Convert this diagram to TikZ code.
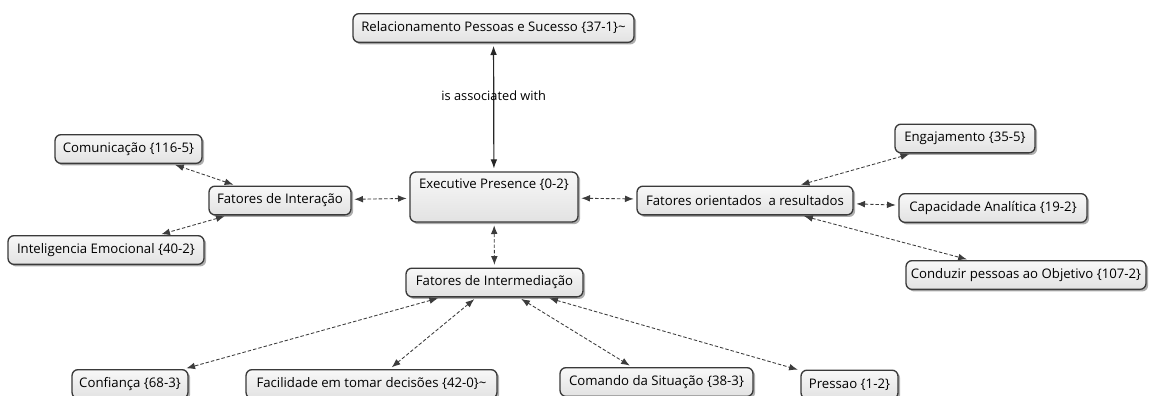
\documentclass[tikz,border=0pt]{standalone}
\usepackage{fontspec}
\setmainfont{Open Sans}
\usetikzlibrary{arrows.meta,shadows}
\definecolor{boxline}{HTML}{3A3A3A}
\definecolor{boxtop}{HTML}{F8F8F8}
\definecolor{boxbot}{HTML}{E2E2E2}
\definecolor{linkcol}{HTML}{3C3C3C}
\tikzset{
  concept/.style={rounded corners=4.5pt, draw=boxline, line width=1pt,
    top color=boxtop, bottom color=boxbot,
    drop shadow={shadow xshift=1.6pt, shadow yshift=-1.6pt, opacity=0.45, fill=black!70},
    font=\fontsize{9.9}{11}\selectfont,
    inner xsep=3pt, inner ysep=0pt, minimum height=21.5pt},
  bw/.style={minimum width={#1*0.75pt}},
  link/.style={draw=linkcol, line width=0.65pt, dash pattern=on 2.6pt off 1.5pt,
    {Latex[length=6.5pt,width=5pt]}-{Latex[length=6.5pt,width=5pt]},
    shorten >=2pt, shorten <=2pt},
  mainlink/.style={draw=black!85, line width=0.9pt,
    {Latex[length=7pt,width=5pt]}-{Latex[length=7pt,width=5pt]},
    shorten >=2pt, shorten <=2pt},
}
\begin{document}
\begin{tikzpicture}[x=0.75pt, y=-0.75pt]
\useasboundingbox (0,0) rectangle (1160,396);
\clip (0,0) rectangle (1160,396);
\fill[white] (0,0) rectangle (1160,396);

% concepts
\node[concept, bw=281] (rel)    at (493.5,28)  {Relacionamento Pessoas e Sucesso \{37-1\}\textasciitilde};
\node[concept, bw=168, text height=12.5pt, text depth=25pt] (exec) at (494,197) {Executive Presence \{0-2\}};
\node[concept, bw=142] (inter)  at (280,200.5) {Fatores de Interação};
\node[concept, bw=147] (com)    at (128.5,149) {Comunicação \{116-5\}};
\node[concept, bw=196] (intel)  at (106,250)   {Inteligencia Emocional \{40-2\}};
\node[concept, bw=216] (orient) at (745,200.5) {Fatores orientados\ \ a resultados};
\node[concept, bw=140] (eng)    at (965,138.5) {Engajamento \{35-5\}};
\node[concept, bw=188] (cap)    at (993,208)   {Capacidade Analítica \{19-2\}};
\node[concept, bw=240] (cond)   at (1026,275)  {Conduzir pessoas ao Objetivo \{107-2\}};
\node[concept, bw=177] (interm) at (494.5,282.5) {Fatores de Intermediação};
\node[concept, bw=116] (conf)   at (130,384)   {Confiança \{68-3\}};
\node[concept, bw=251] (facil)  at (371.5,384) {Facilidade em tomar decisões \{42-0\}\textasciitilde};
\node[concept, bw=193] (cmd)    at (656.5,382) {Comando da Situação \{38-3\}};
\node[concept, bw=97]  (press)  at (849.5,384.5) {Pressao \{1-2\}};

% links
\draw[mainlink] (exec) -- node[pos=0.59, font=\fontsize{9.6}{11}\selectfont] {is associated with} (rel);
\draw[link] (exec) -- (inter);
\draw[link] (exec) -- (orient);
\draw[link] (exec) -- (interm);
\draw[link] (inter) -- (com);
\draw[link] (inter) -- (intel);
\draw[link] (orient) -- (eng);
\draw[link] (orient) -- (cap);
\draw[link] (orient) -- (cond);
\draw[link] (interm) -- (conf);
\draw[link] (interm) -- (facil);
\draw[link] (interm) -- (cmd);
\draw[link] (interm) -- (press);
\end{tikzpicture}
\end{document}
